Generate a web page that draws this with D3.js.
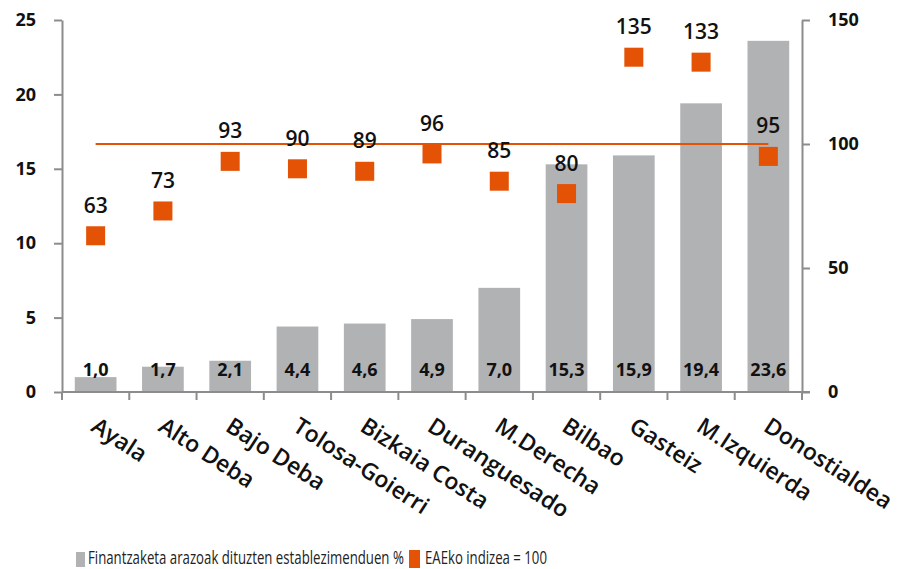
<!DOCTYPE html>
<html>
<head>
<meta charset="utf-8">
<script src="https://cdn.jsdelivr.net/npm/d3@7"></script>
<style>
  html, body { margin: 0; padding: 0; background: #fff; }
  svg { display: block; font-family: "Open Sans", "Noto Sans", sans-serif; }
</style>
</head>
<body>
<svg id="chart" width="903" height="569"></svg>
<script>
// Regions
const categories = ["Ayala", "Alto Deba", "Bajo Deba", "Tolosa-Goierri", "Bizkaia Costa",
  "Duranguesado", "M.Derecha", "Bilbao", "Gasteiz", "M.Izquierda", "Donostialdea"];
// Share of establishments reporting financing problems (%)
const sharePct = [1.0, 1.7, 2.1, 4.4, 4.6, 4.9, 7.0, 15.3, 15.9, 19.4, 23.6];
// Index, Basque Country = 100
const indexVals = [63, 73, 93, 90, 89, 96, 85, 80, 135, 133, 95];
const referenceIndex = 100;
const leftTicks = [0, 5, 10, 15, 20, 25];
const rightTicks = [0, 50, 100, 150];
const legendLabels = ["Finantzaketa arazoak dituzten establezimenduen %", "EAEko indizea = 100"];

const GRAY = "#b1b2b4";
const ORANGE = "#e35205";
const AXIS = "#8c8c8c";

const svg = d3.select("#chart");
const plotLeft = 62, plotRight = 802, plotTop = 20, plotBottom = 392;

const x = d3.scaleBand().domain(categories).range([plotLeft, plotRight]).paddingInner(0.38).paddingOuter(0.19);
const xBand = d3.scaleBand().domain(categories).range([plotLeft, plotRight]);
const yL = d3.scaleLinear().domain([0, 25]).range([plotBottom, plotTop]);
const yR = d3.scaleLinear().domain([0, 150]).range([plotBottom, plotTop]);
const cx = i => xBand(categories[i]) + xBand.bandwidth() / 2;

// Bars
svg.append("g").selectAll("rect").data(sharePct).join("rect")
  .attr("x", (d, i) => x(categories[i]))
  .attr("width", x.bandwidth())
  .attr("y", d => yL(d))
  .attr("height", d => yL(0) - yL(d))
  .attr("fill", GRAY);

// Bar value labels
const fmt = d => d.toFixed(1).replace(".", ",");
svg.append("g").selectAll("text").data(sharePct).join("text")
  .attr("x", (d, i) => cx(i))
  .attr("y", plotBottom - 16)
  .attr("text-anchor", "middle")
  .attr("font-size", 18)
  .attr("font-weight", 700)
  .attr("fill", "#111")
  .text(fmt);

// Reference line at index 100
svg.append("line")
  .attr("x1", cx(0)).attr("x2", cx(categories.length - 1))
  .attr("y1", yR(referenceIndex)).attr("y2", yR(referenceIndex))
  .attr("stroke", ORANGE).attr("stroke-width", 2);

// Index markers
const sq = 19;
svg.append("g").selectAll("rect").data(indexVals).join("rect")
  .attr("x", (d, i) => cx(i) - sq / 2)
  .attr("y", d => yR(d) - sq / 2)
  .attr("width", sq).attr("height", sq)
  .attr("fill", ORANGE);

svg.append("g").selectAll("text").data(indexVals).join("text")
  .attr("x", (d, i) => cx(i))
  .attr("y", d => yR(d) - 23)
  .attr("text-anchor", "middle")
  .attr("font-size", 21)
  .attr("font-weight", 600)
  .attr("fill", "#111")
  .text(d => d);

// Left axis
const gl = svg.append("g").attr("transform", `translate(${plotLeft},0)`)
  .call(d3.axisLeft(yL).tickValues(leftTicks).tickSize(8).tickPadding(18).tickSizeOuter(0));
// Right axis
const gr = svg.append("g").attr("transform", `translate(${plotRight},0)`)
  .call(d3.axisRight(yR).tickValues(rightTicks).tickSize(8).tickPadding(18).tickSizeOuter(0));
[gl, gr].forEach(g => {
  g.select(".domain").attr("stroke", AXIS).attr("stroke-width", 2);
  g.selectAll(".tick line").attr("stroke", AXIS).attr("stroke-width", 2);
  g.selectAll(".tick text").attr("font-size", 18).attr("font-weight", 700)
    .attr("fill", "#111").attr("font-family", "'Open Sans', sans-serif");
});

// Bottom axis: baseline and category boundary ticks
svg.append("line").attr("x1", plotLeft).attr("x2", plotRight + 8)
  .attr("y1", plotBottom).attr("y2", plotBottom)
  .attr("stroke", AXIS).attr("stroke-width", 2);
const bounds = categories.map(c => xBand(c)).concat([plotRight]);
svg.append("g").selectAll("line").data(bounds).join("line")
  .attr("x1", d => d).attr("x2", d => d)
  .attr("y1", plotBottom).attr("y2", plotBottom + 8)
  .attr("stroke", AXIS).attr("stroke-width", 2);

// Category labels
svg.append("g").selectAll("text").data(categories).join("text")
  .attr("transform", (d, i) => `translate(${cx(i) - 6},${plotBottom + 38}) rotate(33)`)
  .attr("font-size", 23)
  .attr("font-weight", 600)
  .attr("fill", "#111")
  .text(d => d);

// Legend (text squeezed horizontally to a condensed look)
const lg = svg.append("g");
function legendText(xPos, width, label) {
  const t = lg.append("text").attr("x", 0).attr("y", 0)
    .attr("font-size", 19).attr("fill", "#222").text(label);
  const natural = t.node().getComputedTextLength();
  t.attr("transform", `translate(${xPos},563.5) scale(${width / natural},1)`);
}
lg.append("rect").attr("x", 76).attr("y", 552).attr("width", 9).attr("height", 15).attr("fill", GRAY);
legendText(88, 316, legendLabels[0]);
lg.append("rect").attr("x", 409).attr("y", 550).attr("width", 11).attr("height", 18).attr("fill", ORANGE);
legendText(425, 122, legendLabels[1]);
</script>
</body>
</html>
